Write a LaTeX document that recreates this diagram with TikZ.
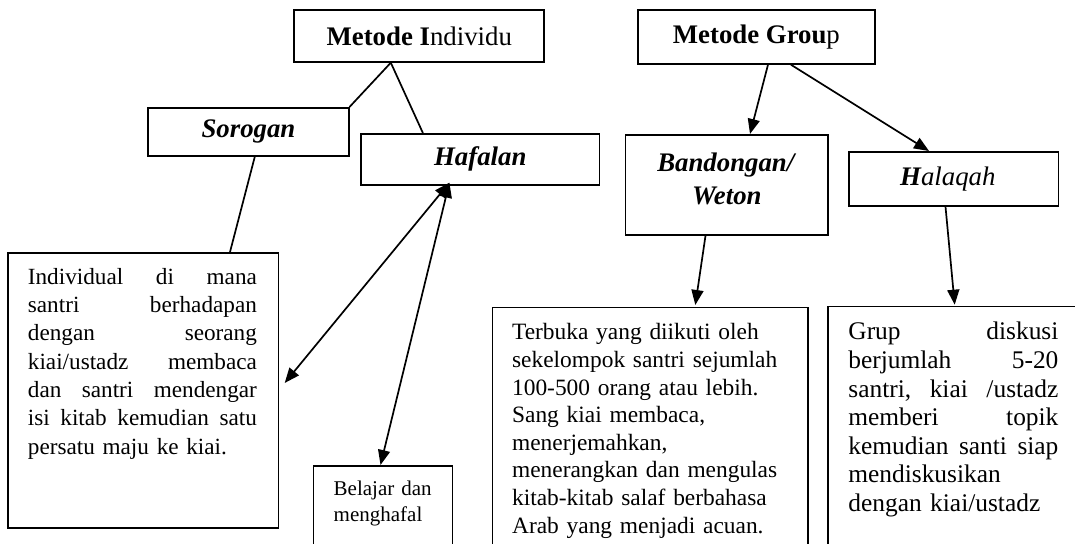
\documentclass[tikz,border=0pt]{standalone}
\usepackage{fontspec}
\setmainfont{Liberation Serif}
\usetikzlibrary{arrows.meta,calc}
\newcommand{\jlA}[1]{\leavevmode\hbox to 114.5pt{#1}}
\newcommand{\jlB}[1]{\leavevmode\hbox to 105pt{#1}}
\begin{document}
\begin{tikzpicture}[x=0.5pt,y=-0.5pt,
  box/.style={draw,line width=0.85pt,inner sep=0pt,anchor=north west},
  head/.style={font=\fontsize{13.4}{16.5}\selectfont,align=center},
  body/.style={inner sep=0pt,anchor=base west,align=left},
  conn/.style={line width=0.85pt},
  arr/.style={conn,-{Triangle[length=7.5pt,width=6pt]}},
  darr/.style={conn,{Triangle[length=7.5pt,width=6pt]}-{Triangle[length=7.5pt,width=6pt]}}]
\useasboundingbox (0,0) rectangle (1075,544);
\clip (0,0) rectangle (1075,544);

% header boxes
\node[box,head,minimum width=125pt,minimum height=26pt] (mi) at (293.4,9) {\textbf{Metode I}ndividu};
\node[box,head,minimum width=118.25pt,minimum height=27pt] (mg) at (637.3,9) {\textbf{Metode Grou}p};
\node[box,head,minimum width=100.2pt,minimum height=24pt] (sor) at (147.4,107) {\textbf{\textit{Sorogan}}};
\node[box,head,minimum width=119.25pt,minimum height=25.5pt] (haf) at (360.2,133) {\textbf{\textit{Hafalan}}};
\node[box,minimum width=101.4pt,minimum height=50pt] (band) at (624.6,134) {};
\node[head] (bandt) at ($(band.center)+(0,-6)$) {\textbf{\textit{Bandongan/}}\\\textbf{\textit{Weton}}};
\node[box,minimum width=104.75pt,minimum height=27pt] (hal) at (848.2,151) {};
\node[head] (halt) at ($(hal.center)+(-6,0)$) {\textit{\textbf{H}alaqah}};

% description boxes
\node[box,minimum width=135.3pt,minimum height=137.5pt] (ind) at (6.9,252) {};
\node[box,minimum width=69.5pt,minimum height=60pt] (bel) at (312.7,465) {};
\node[box,minimum width=157.6pt,minimum height=130pt] (terb) at (491.7,306.7) {};
\node[box,minimum width=150pt,minimum height=130pt] (grup) at (827,305.7) {};

\node[body,text width=120pt,font=\fontsize{11.6}{14.15}\selectfont] (indt) at (27.5,284.3)
 {\jlA{Individual\hfill di\hfill mana}\\
  \jlA{santri\hfill berhadapan}\\
  \jlA{dengan\hfill seorang}\\
  \jlA{kiai/ustadz\hfill membaca}\\
  \jlA{dan\hfill santri\hfill mendengar}\\
  \jlA{isi\hfill kitab\hfill kemudian\hfill satu}\\
  persatu maju ke kiai.};

\node[body,text width=80pt,font=\fontsize{10.5}{13.35}\selectfont] (belt) at (333.3,495)
 {Belajar dan\\menghafal};

\node[body,text width=150pt,font=\fontsize{11.7}{13.8}\selectfont] (terbt) at (511.7,340)
 {Terbuka yang diikuti oleh\\
  sekelompok santri sejumlah\\
  100-500 orang atau lebih.\\
  Sang kiai membaca,\\
  menerjemahkan,\\
  menerangkan dan mengulas\\
  kitab-kitab salaf berbahasa\\
  Arab yang menjadi acuan.};

\node[body,text width=110pt,font=\fontsize{12.7}{14.3}\selectfont] (grupt) at (848,340)
 {\jlB{Grup\hfill diskusi}\\
  \jlB{berjumlah\hfill 5-20}\\
  \jlB{santri,\hfill kiai\hfill /ustadz}\\
  \jlB{memberi\hfill topik}\\
  \jlB{kemudian\hfill santi\hfill siap}\\
  mendiskusikan\\
  dengan kiai/ustadz};

% connectors
\coordinate (mib) at ($(mi.south west)+(97.4,0)$);
\draw[conn] (mib) -- (sor.north east);
\draw[conn] (mib) -- ($(haf.north west)+(62.7,0)$);
\draw[conn] ($(sor.south west)+(107.4,0)$) -- ($(ind.north west)+(223.1,0)$);
\coordinate (hafb) at ($(haf.south west)+(89.2,-3)$);
\draw[darr] (hafb) -- ($(ind.north east)+(5.5,131)$);
\draw[darr] (hafb) -- ($(bel.north west)+(67.8,0)$);
\draw[arr] ($(mg.south west)+(130.7,0)$) -- ($(band.north west)+(125.4,0)$);
\draw[arr] ($(mg.south west)+(153.6,0)$) -- ($(hal.north west)+(80.8,0)$);
\draw[arr] ($(band.south west)+(80.9,0)$) -- ($(terb.north west)+(203.6,-1.7)$);
\draw[arr] ($(hal.south west)+(97.3,0)$) -- ($(grup.north west)+(127.7,-1)$);
\end{tikzpicture}
\end{document}
